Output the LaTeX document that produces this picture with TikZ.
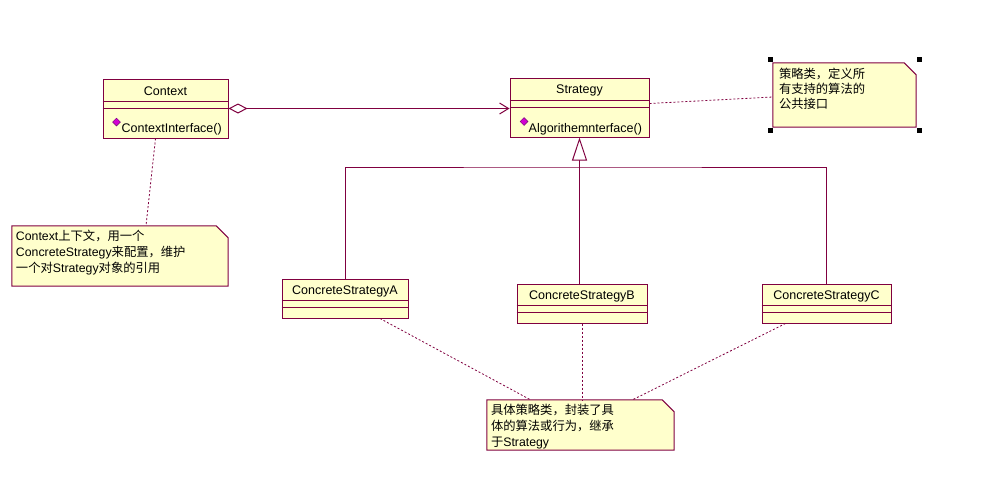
\documentclass[tikz,border=0pt]{standalone}
\usepackage{fontspec}
\setmainfont{Liberation Sans}
\newfontfamily\cjk{Noto Sans CJK SC}
\usetikzlibrary{arrows.meta,shapes.geometric}
\definecolor{umlred}{RGB}{128,0,64}
\definecolor{umlfill}{RGB}{255,255,204}
\definecolor{opicon}{RGB}{210,0,210}
\definecolor{opedge}{RGB}{110,0,110}

\tikzset{
  cls/.style={draw=umlred,fill=umlfill,line width=1pt,inner sep=0pt},
  notebox/.style={draw=umlred,fill=umlfill,line width=1pt},
  notetext/.style={inner sep=0pt,anchor=north west,align=left,font=\fontsize{12.3}{16}\selectfont},
  clsname/.style={inner sep=0pt,font=\fontsize{12.5}{15}\selectfont},
  optext/.style={inner sep=0pt,anchor=base west,font=\fontsize{12.5}{15}\selectfont},
  opdiamond/.style={diamond,fill=opicon,draw=opedge,line width=0.5pt,inner sep=0pt,minimum width=8pt,minimum height=8pt},
  umlline/.style={draw=umlred,line width=1pt},
  anchorline/.style={draw=umlred,line width=0.8pt,dash pattern=on 2pt off 2pt}
}

\begin{document}
\begin{tikzpicture}[x=1pt,y=-1pt]
  \useasboundingbox[fill=white] (0,0) rectangle (987,482);

  % classes
  \node[cls,minimum width=125pt,minimum height=59pt] (context) at (165.5,108.5) {};
  \node[cls,minimum width=139pt,minimum height=59pt] (strategy) at (579.5,107.5) {};
  \node[cls,minimum width=126pt,minimum height=39pt] (csa) at (345,298.5) {};
  \node[cls,minimum width=130pt,minimum height=39pt] (csb) at (582,303.5) {};
  \node[cls,minimum width=129pt,minimum height=39pt] (csc) at (826.5,303.5) {};
  \foreach \c/\dy in {context/23,strategy/23,csa/22,csb/22,csc/22} {
    \draw[umlline] ([yshift=-\dy pt]\c.north west) -- ([yshift=-\dy pt]\c.north east);
    \draw[umlline] ([yshift=-\dy pt-7pt]\c.north west) -- ([yshift=-\dy pt-7pt]\c.north east);
  }
  \node[clsname] (contextname) at ([yshift=-13pt]context.north) {Context};
  \node[clsname] (strategyname) at ([yshift=-13pt]strategy.north) {Strategy};
  \node[clsname] (csaname) at ([yshift=-12.5pt]csa.north) {ConcreteStrategyA};
  \node[clsname] (csbname) at ([yshift=-12.5pt]csb.north) {ConcreteStrategyB};
  \node[clsname] (cscname) at ([yshift=-12.5pt]csc.north) {ConcreteStrategyC};
  \node[opdiamond] (contexticon) at ([shift={(14pt,-43.5pt)}]context.north west) {};
  \node[optext] (contextop) at ([shift={(19pt,-54pt)}]context.north west) {ContextInterface()};
  \node[opdiamond] (strategyicon) at ([shift={(14.5pt,-44pt)}]strategy.north west) {};
  \node[optext] (strategyop) at ([shift={(19pt,-55pt)}]strategy.north west) {Algorithemnterface()};

  % notes
  \node[minimum width=216pt,minimum height=60pt] (ctxnote) at (120,256) {};
  \node[minimum width=143pt,minimum height=64pt] (stranote) at (844.5,95) {};
  \node[minimum width=187pt,minimum height=50pt] (botnote) at (580.5,425) {};
  \foreach \n in {ctxnote,stranote,botnote}
    \draw[notebox] (\n.north west) -- ([xshift=-12pt]\n.north east) -- ([yshift=-12pt]\n.north east)
      -- (\n.south east) -- (\n.south west) -- cycle;
  \node[notetext] (ctxtext) at ([shift={(4pt,-4pt)}]ctxnote.north west)
    {Context{\cjk 上下文，用一个}\\ConcreteStrategy{\cjk 来配置，维护}\\{\cjk 一个对}Strategy{\cjk 对象的引用}};
  \node[notetext,font=\fontsize{12.3}{15}\selectfont] (stratext) at ([shift={(6pt,-5pt)}]stranote.north west)
    {{\cjk 策略类，定义所}\\{\cjk 有支持的算法的}\\{\cjk 公共接口}};
  \node[notetext] (bottext) at ([shift={(4pt,-4pt)}]botnote.north west)
    {{\cjk 具体策略类，封装了具}\\{\cjk 体的算法或行为，继承}\\{\cjk 于}Strategy};
  % selection handles
  \foreach \a/\dx/\dy in {north west/-2/3,north east/3/3,south west/-2/-3,south east/3/-3}
    \fill ([shift={(\dx pt,\dy pt)}]stranote.\a) +(-2.5pt,-2.5pt) rectangle +(2.5pt,2.5pt);

  % aggregation
  \draw[umlline,{Diamond[open,fill=white,length=19pt,width=10pt]}-{Straight Barb[length=9pt,width=11pt]}]
    (context.east) -- (context.east -| strategy.west);

  % generalization
  \coordinate (bus) at (strategy.south |- 0,167);
  \draw[umlline,-{Triangle[open,fill=white,length=23pt,width=15pt]}] (strategy.south |- csb.north) -- (strategy.south);
  \draw[umlline] (csa.north) |- (bus) -| (csc.north);

  % note anchors
  \draw[anchorline] ([xshift=-10pt]context.south) -- ([xshift=26pt]ctxnote.north);
  \draw[anchorline] ([yshift=4pt]strategy.east) -- ([yshift=-2pt]stranote.west);
  \draw[anchorline] ([xshift=35pt]csa.south) -- ([xshift=-50pt]botnote.north);
  \draw[anchorline] (csb.south) -- (csb.south |- botnote.north);
  \draw[anchorline] ([xshift=-41pt]csc.south) -- ([xshift=52pt]botnote.north);
\end{tikzpicture}
\end{document}
